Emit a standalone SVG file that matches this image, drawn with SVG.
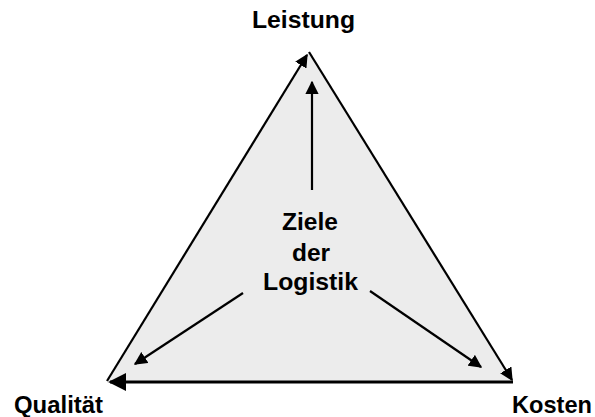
<svg xmlns="http://www.w3.org/2000/svg" width="595" height="417" viewBox="0 0 595 417">
  <style>
    text { font-family: "Liberation Sans", Arial, sans-serif; font-weight: bold; fill: #000; }
    .corner { font-size: 24px; }
    .center { font-size: 24.5px; text-anchor: middle; }
    .edge { stroke: #000; stroke-width: 2.2; fill: none; marker-end: url(#head); }
  </style>
  <defs>
    <marker id="head" viewBox="0 0 10 10" refX="9" refY="5" markerWidth="6" markerHeight="6" markerUnits="strokeWidth" orient="auto">
      <path d="M0,0 L10,5 L0,10 z" fill="#000"/>
    </marker>
  </defs>

  <g id="triangle">
    <polygon points="309,52 107,383 513,383" fill="#ececec"/>
  </g>

  <g id="connectors">
    <!-- outer cycle -->
    <line class="edge" x1="107" y1="381" x2="307" y2="55"/>
    <line class="edge" x1="309" y1="52" x2="512" y2="380"/>
    <line class="edge" x1="513" y1="382" x2="110" y2="382" style="stroke-width:3"/>
    <!-- from centre to the corners -->
    <line class="edge" x1="312" y1="190" x2="312" y2="82"/>
    <line class="edge" x1="243" y1="293" x2="135" y2="364"/>
    <line class="edge" x1="370" y1="291" x2="481" y2="367"/>
  </g>

  <g id="center">
    <text class="center" x="310" y="230" textLength="56" lengthAdjust="spacingAndGlyphs">Ziele</text>
    <text class="center" x="311" y="261">der</text>
    <text class="center" x="310.5" y="290" textLength="95" lengthAdjust="spacingAndGlyphs">Logistik</text>
  </g>
  <g id="leistung"><text class="corner" x="252" y="28" textLength="103" lengthAdjust="spacingAndGlyphs">Leistung</text></g>
  <g id="qualitaet"><text class="corner" x="14" y="413" textLength="89" lengthAdjust="spacingAndGlyphs">Qualität</text></g>
  <g id="kosten"><text class="corner" x="512" y="413" textLength="80" lengthAdjust="spacingAndGlyphs">Kosten</text></g>
</svg>
